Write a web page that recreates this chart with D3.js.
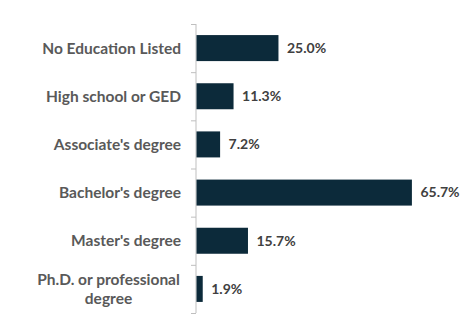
<!DOCTYPE html>
<html><head><meta charset="utf-8">
<script src="https://cdn.jsdelivr.net/npm/d3@7"></script>
<style>body{margin:0;background:#fff}</style>
</head><body>
<svg id="c" width="470" height="331"></svg>
<script>
const categories = ["No Education Listed","High school or GED","Associate's degree","Bachelor's degree","Master's degree","Ph.D. or professional degree"];
const values = [25.0, 11.3, 7.2, 65.7, 15.7, 1.9];
const labelLines = [["No Education Listed"],["High school or GED"],["Associate's degree"],["Bachelor's degree"],["Master's degree"],["Ph.D. or professional","degree"]];

const svg = d3.select("#c");
const y = d3.scaleBand().domain(categories).range([24, 313]).paddingInner(0.46).paddingOuter(0.23);
const x = d3.scaleLinear().domain([0, 70]).range([196.5, 426]);
const font = "Lato, 'Open Sans', sans-serif";

// axis line and ticks
const yAxis = d3.axisLeft(d3.scaleLinear().domain([0, 6]).range([24, 313])).ticks(6).tickSize(5).tickFormat("");
const ag = svg.append("g").attr("transform", "translate(196,0)").call(yAxis);
ag.select(".domain").attr("stroke", "#bfbfbf").attr("d", "M0,24V313");
ag.selectAll(".tick line").attr("stroke", "#bfbfbf");

svg.selectAll("rect.bar").data(values).join("rect").attr("class","bar")
  .attr("x", x(0)).attr("y", (d,i)=>y(categories[i]))
  .attr("width", d=>x(d)-x(0)).attr("height", y.bandwidth())
  .attr("fill", "#0c2a3a");

svg.selectAll("text.val").data(values).join("text").attr("class","val")
  .attr("x", d=>x(d)+8.5).attr("y", (d,i)=>y(categories[i])+y.bandwidth()/2)
  .attr("dy","0.35em").attr("font-family", font).attr("font-weight","bold")
  .attr("font-size","14px").attr("fill","#404040")
  .text(d=>d.toFixed(1)+"%");

const lab = svg.selectAll("text.cat").data(categories).join("text").attr("class","cat")
  .attr("font-family", font).attr("font-weight","bold")
  .attr("font-size","15.5px").attr("fill","#595959");
lab.each(function(d,i){
  const lines = labelLines[i];
  const cy = y(d)+y.bandwidth()/2;
  const lh = 19;
  const t = d3.select(this);
  if (lines.length === 1) {
    t.attr("text-anchor","end");
    t.append("tspan").attr("x",181).attr("y", cy).attr("dy","0.35em").text(lines[0]);
  } else {
    t.attr("text-anchor","middle");
    lines.forEach((ln,k)=>{
      t.append("tspan").attr("x",108.5).attr("y", cy + (k-(lines.length-1)/2)*lh).attr("dy","0.35em").text(ln);
    });
  }
});
</script>
</body></html>
